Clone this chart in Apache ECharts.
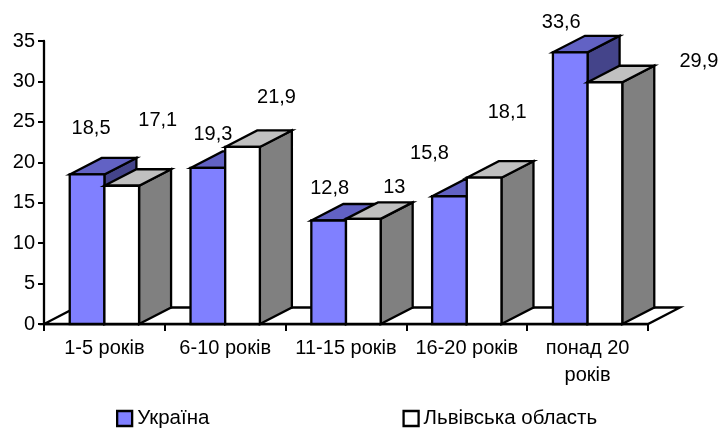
<!DOCTYPE html>
<html><head><meta charset="utf-8">
<style>html,body{margin:0;padding:0;background:#fff}#c{width:722px;height:428px}</style>
<script src="https://cdn.jsdelivr.net/npm/echarts@6/dist/echarts.min.js"></script>
</head><body><div id="c"></div>
<script>
const categories = ['1-5 років','6-10 років','11-15 років','16-20 років','понад 20\nроків'];
const seriesNames = ['Україна','Львівська область'];
const ukraine = [18.5,19.3,12.8,15.8,33.6];
const lviv = [17.1,21.9,13,18.1,29.9];
const yTicksMax = 35, yTicksStep = 5;

const FONT = '"Liberation Sans", Arial, sans-serif';
const FONT_SIZE = 20;
const DEPTH_X = 32, DEPTH_Y = 16.5, BAR_RATIO = 0.287;
const labelShiftA = [[4,-46],[5,-33],[1,-32],[-20,-43],[-9,-30]];
const labelShiftB = [[36,-65],[34,-49],[31,-31],[23,-65],[94,-21]];
const paletteA = {front:'#8080FF', top:'#6262C4', side:'#44448A'};
const paletteB = {front:'#FFFFFF', top:'#C0C0C0', side:'#808080'};
const edge = {stroke:'#000', lineWidth:2.3, lineJoin:'miter'};

function barRenderer(seriesPos, palette, shifts){
  return function(params, api){
    const idx = api.value(0), val = api.value(1);
    const c = api.coord([idx, val]), base = api.coord([idx, 0]);
    const w = api.size([1,0])[0] * BAR_RATIO;
    const x0 = c[0] + (seriesPos === 0 ? -w : 0), x1 = x0 + w;
    const yT = c[1], yB = base[1];
    const poly = (pts, fill) => ({type:'polygon', shape:{points:pts}, style:Object.assign({fill}, edge)});
    const sh = shifts[params.dataIndex];
    return {type:'group', children:[
      poly([[x1,yB],[x1+DEPTH_X,yB-DEPTH_Y],[x1+DEPTH_X,yT-DEPTH_Y],[x1,yT]], palette.side),
      poly([[x0,yT],[x0+DEPTH_X,yT-DEPTH_Y],[x1+DEPTH_X,yT-DEPTH_Y],[x1,yT]], palette.top),
      poly([[x0,yB],[x0,yT],[x1,yT],[x1,yB]], palette.front),
      {type:'text', x:(x0+x1)/2+sh[0], y:yT+sh[1], style:{
        text:String(val).replace('.',','), fill:'#000', font:FONT_SIZE+'px '+FONT, align:'center', verticalAlign:'middle'}}
    ]};
  };
}
function floorRenderer(params, api){
  const g = params.coordSys, yB = g.y + g.height, xL = g.x, xR = g.x + g.width;
  return {type:'polygon', shape:{points:[[xL,yB],[xR,yB],[xR+DEPTH_X,yB-DEPTH_Y],[xL+DEPTH_X,yB-DEPTH_Y]]},
    style:Object.assign({fill:'#fff'}, edge)};
}
const toData = arr => arr.map((v,i)=>[i,v]);
const chart = echarts.init(document.getElementById('c'), null, {renderer:'canvas'});
chart.setOption({
  animation:false,
  backgroundColor:'#fff',
  grid:{left:44, top:41, width:604, height:283, containLabel:false},
  legend:{
    left:116, top:408, padding:0, itemWidth:15, itemHeight:15, itemGap:193,
    icon:'rect', textStyle:{fontFamily:FONT, fontSize:20.5, color:'#000'},
    data:[
      {name:seriesNames[0], itemStyle:{color:paletteA.front,borderColor:'#000',borderWidth:2.3}},
      {name:seriesNames[1], itemStyle:{color:paletteB.front,borderColor:'#000',borderWidth:2.3}}
    ]
  },
  xAxis:{type:'category', data:categories,
    axisLine:{lineStyle:{color:'#000',width:2.3}},
    axisTick:{show:true,length:7,lineStyle:{color:'#000',width:2}},
    axisLabel:{color:'#000',fontFamily:FONT,fontSize:FONT_SIZE,lineHeight:27,margin:11,interval:0}},
  yAxis:{type:'value', min:0, max:yTicksMax, interval:yTicksStep,
    splitLine:{show:false},
    axisLine:{show:true,lineStyle:{color:'#000',width:2.3}},
    axisTick:{show:true,length:6,lineStyle:{color:'#000',width:2}},
    axisLabel:{color:'#000',fontFamily:FONT,fontSize:FONT_SIZE,margin:9}},
  series:[
    {type:'custom', name:'floor', data:[[0,0]], clip:false, z:1, silent:true, renderItem:floorRenderer, encode:{x:0,y:1}},
    {type:'custom', name:seriesNames[0], data:toData(ukraine), clip:false, z:3, itemStyle:{color:paletteA.front}, renderItem:barRenderer(0,paletteA,labelShiftA), encode:{x:0,y:1}},
    {type:'custom', name:seriesNames[1], data:toData(lviv), clip:false, z:4, itemStyle:{color:paletteB.front}, renderItem:barRenderer(1,paletteB,labelShiftB), encode:{x:0,y:1}}
  ]
});
</script></body></html>
